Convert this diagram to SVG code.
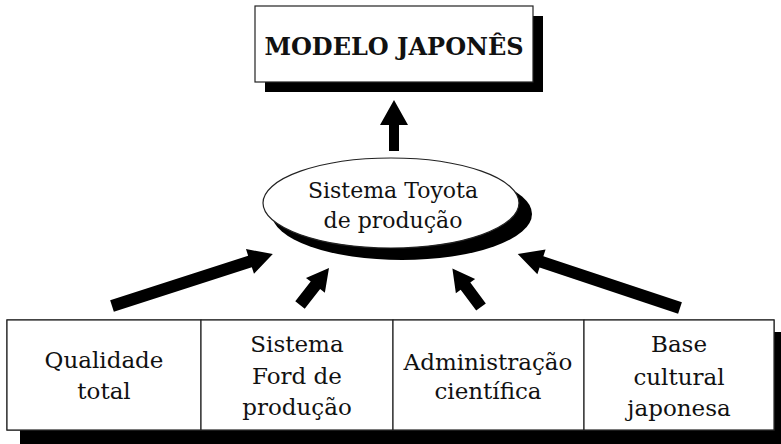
<svg xmlns="http://www.w3.org/2000/svg" width="781" height="444" viewBox="0 0 781 444">
<style>
.box{fill:#fff;stroke:#222;stroke-width:1.2}
.shadow{fill:#000}
.t{font-family:"DejaVu Serif","Liberation Serif",serif;font-size:23px;fill:#111;text-anchor:middle}
.te{font-family:"DejaVu Serif","Liberation Serif",serif;font-size:22px;fill:#111;text-anchor:middle}
.title{font-family:"DejaVu Serif","Liberation Serif",serif;font-size:24px;font-weight:bold;fill:#111;text-anchor:middle}
.arr{fill:#000}
</style>
<rect width="781" height="444" fill="#fff"/>
<g id="modelo-japones">
<rect class="shadow" x="265" y="16" width="278" height="76"/>
<rect class="box" x="255" y="6" width="278" height="76"/>
<text class="title" x="394" y="55">MODELO JAPONÊS</text>
</g>
<g id="sistema-toyota">
<ellipse class="shadow" cx="402" cy="214" rx="130" ry="46"/>
<ellipse class="box" cx="391" cy="203" rx="128" ry="45"/>
<text class="te" x="393" y="198">Sistema Toyota</text>
<text class="te" x="393" y="228">de produção</text>
</g>
<g id="bases">
<rect class="shadow" x="20" y="332" width="767" height="112"/>
<rect class="box" x="7" y="320" width="767" height="110"/>
</g>
<g id="qualidade-total">
<rect class="box" x="7" y="320" width="194" height="110"/>
<text class="t" x="104" y="368">Qualidade</text>
<text class="t" x="104" y="399">total</text>
</g>
<g id="sistema-ford">
<rect class="box" x="201" y="320" width="192" height="110"/>
<text class="t" x="297" y="352">Sistema</text>
<text class="t" x="297" y="384">Ford de</text>
<text class="t" x="297" y="415">produção</text>
</g>
<g id="administracao-cientifica">
<rect class="box" x="393" y="320" width="191" height="110"/>
<text class="t" x="488" y="370">Administração</text>
<text class="t" x="488" y="399">científica</text>
</g>
<g id="base-cultural">
<rect class="box" x="584" y="320" width="190" height="110"/>
<text class="t" x="679" y="352">Base</text>
<text class="t" x="679" y="385">cultural</text>
<text class="t" x="679" y="416">japonesa</text>
</g>
<g id="connectors" class="arr">
<g transform="translate(394,151) rotate(-90)"><polygon points="0,-5 26,-5 26,-14 51,0 26,14 26,5 0,5"/></g>
<g transform="translate(112,306) rotate(-17.9)"><polygon points="0,-6 145,-6 145,-13 169,0 145,13 145,6 0,6"/></g>
<g transform="translate(300,305) rotate(-51.9)"><polygon points="0,-6 25,-6 25,-12 47,0 25,12 25,6 0,6"/></g>
<g transform="translate(481,307) rotate(-126.6)"><polygon points="0,-6 26,-6 26,-12 48,0 26,12 26,6 0,6"/></g>
<g transform="translate(680,308) rotate(-161.6)"><polygon points="0,-6 146,-6 146,-13 171,0 146,13 146,6 0,6"/></g>
</g>
</svg>
